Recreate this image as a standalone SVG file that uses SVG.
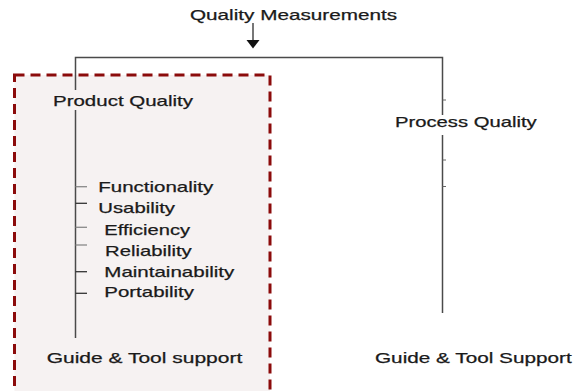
<svg xmlns="http://www.w3.org/2000/svg" width="577" height="391" viewBox="0 0 577 391">
<style>
text{font-family:"Liberation Sans",Arial,sans-serif;font-size:15px;fill:#1a1a1a;stroke:#1a1a1a;stroke-width:0.25}
.ln{stroke:#4a4a4a;stroke-width:1.5;fill:none}
.tk{stroke:#333;stroke-width:1.3;fill:none}
.tg{stroke:#888;stroke-width:1.3;fill:none}
.st{stroke:#666;stroke-width:1;fill:none}
</style>
<rect width="577" height="391" fill="#ffffff"/>
<g id="product-box">
<rect x="14.5" y="75" width="255.5" height="340" fill="#f6f2f2" stroke="#8b0b0b" stroke-width="3" stroke-dasharray="10 6"/>
</g>
<g id="connectors">
<line class="ln" x1="253" y1="23" x2="253" y2="40"/>
<path d="M246.5,40 L259.5,40 L253,48.5 Z" fill="#111"/>
<polyline class="ln" points="75.5,90 75.5,57.5 442.5,57.5 442.5,115"/>
<line class="ln" x1="75.5" y1="110" x2="75.5" y2="338"/>
<line class="ln" x1="442.5" y1="135" x2="442.5" y2="313"/>
<line class="st" x1="442.5" y1="100" x2="446" y2="100"/>
<line class="st" x1="442.5" y1="160" x2="446" y2="160"/>
<line class="st" x1="442.5" y1="186.5" x2="446" y2="186.5"/>
<line class="tg" x1="75.5" y1="186.7" x2="87" y2="186.7"/>
<line class="tk" x1="75.5" y1="203.3" x2="87" y2="203.3"/>
<line class="tg" x1="75.5" y1="227.3" x2="87" y2="227.3"/>
<line class="tg" x1="75.5" y1="245" x2="87" y2="245"/>
<line class="tk" x1="75.5" y1="271.7" x2="87" y2="271.7"/>
<line class="tk" x1="75.5" y1="293.3" x2="87" y2="293.3"/>
</g>
<g id="title"><text x="190" y="20" textLength="207" lengthAdjust="spacingAndGlyphs">Quality Measurements</text></g>
<g id="product-quality"><text x="53" y="106" textLength="140" lengthAdjust="spacingAndGlyphs">Product Quality</text></g>
<g id="process-quality"><text x="395" y="127" textLength="141.7" lengthAdjust="spacingAndGlyphs">Process Quality</text></g>
<g id="functionality"><text x="98.3" y="192.3" textLength="115" lengthAdjust="spacingAndGlyphs">Functionality</text></g>
<g id="usability"><text x="98.3" y="212.7" textLength="76.7" lengthAdjust="spacingAndGlyphs">Usability</text></g>
<g id="efficiency"><text x="104.3" y="235" textLength="85.7" lengthAdjust="spacingAndGlyphs">Efficiency</text></g>
<g id="reliability"><text x="105" y="256.3" textLength="86.7" lengthAdjust="spacingAndGlyphs">Reliability</text></g>
<g id="maintainability"><text x="104.3" y="276.7" textLength="130" lengthAdjust="spacingAndGlyphs">Maintainability</text></g>
<g id="portability"><text x="104.3" y="297.3" textLength="89.7" lengthAdjust="spacingAndGlyphs">Portability</text></g>
<g id="guide-product"><text x="46.7" y="363.3" textLength="195.6" lengthAdjust="spacingAndGlyphs">Guide &amp; Tool support</text></g>
<g id="guide-process"><text x="375" y="363.3" textLength="196.7" lengthAdjust="spacingAndGlyphs">Guide &amp; Tool Support</text></g>
</svg>
